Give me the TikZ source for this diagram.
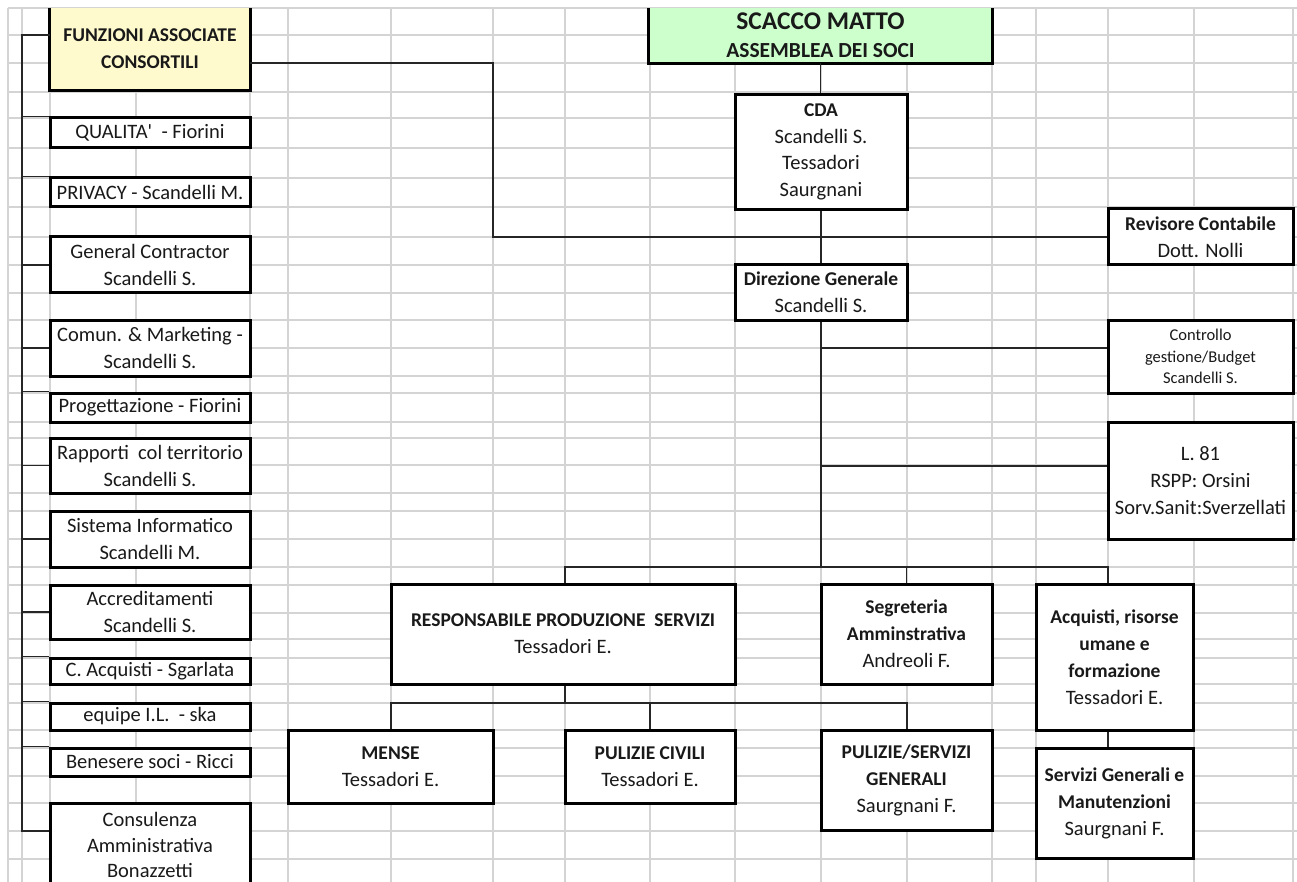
\documentclass[tikz,border=0pt]{standalone}
\usepackage{fontspec}
\setmainfont{Carlito}
\definecolor{gridgray}{RGB}{212,212,212}
\definecolor{boxyellow}{RGB}{255,250,205}
\definecolor{boxgreen}{RGB}{204,255,204}
\definecolor{ink}{RGB}{25,25,25}
\newcommand{\hd}[1]{{\fontsize{19.5}{27}\selectfont\bfseries #1}}

\begin{document}
\begin{tikzpicture}[x=1pt,y=-1pt,
	box/.style={draw=black,line width=3pt,fill=white,align=center,inner sep=0pt,text=ink,font=\fontsize{20.5}{27}\selectfont},
	topbox/.style={align=center,inner sep=0pt,text=ink,font=\fontsize{19.5}{27}\selectfont\bfseries},
	link/.style={line width=1.6pt,draw=black!85}]
		\clip (0,0) rectangle (1297,882);
		\foreach \x in {8,22,50,136,250,288,391,493,565,650,735,821,907,992,1036,1108,1194,1293}
			\draw[gridgray,line width=1.2pt] (\x,8) -- (\x,882);
		\foreach \y in {8,35,63,92,118,148,178,207,237,265,293,320,348,376,393,422,438,465,493,511,539,567,585,613,639,658,684,703,730,748,776,803,831,859}
			\draw[gridgray,line width=1.2pt] (8,\y) -- (1297,\y);
		\node[topbox,fill=boxyellow,minimum width=200pt,minimum height=82pt] (F) at (150,49) {FUNZIONI ASSOCIATE\\CONSORTILI};
		\draw[line width=3pt] (F.north west) -- (F.south west) -- (F.south east) -- (F.north east);
		\node[box,minimum width=200pt,minimum height=30pt] (Q) at (150,133) {QUALITA\textquotesingle{}\ \ - Fiorini};
		\node[box,minimum width=200pt,minimum height=29pt] (P) at (150,192.5) {PRIVACY - Scandelli M.};
		\node[box,minimum width=200pt,minimum height=56pt] (G) at (150,265) {General Contractor\\Scandelli S.};
		\node[box,minimum width=200pt,minimum height=56pt] (C) at (150,348) {Comun. \& Marketing -\\Scandelli S.};
		\node[box,minimum width=200pt,minimum height=29pt] (Pg) at (150,407.5) {Progettazione - Fiorini};
		\node[box,minimum width=200pt,minimum height=55pt] (R) at (150,465.5) {Rapporti\ \ col territorio\\Scandelli S.};
		\node[box,minimum width=200pt,minimum height=56pt] (SI) at (150,539) {Sistema Informatico\\Scandelli M.};
		\node[box,minimum width=200pt,minimum height=54pt] (AC) at (150,612) {Accreditamenti\\Scandelli S.};
		\node[box,minimum width=200pt,minimum height=26pt] (CA) at (150,671) {C. Acquisti - Sgarlata};
		\node[box,minimum width=200pt,minimum height=27pt] (E) at (150,716.5) {equipe I.L.\ \ - ska};
		\node[box,minimum width=200pt,minimum height=28pt] (B) at (150,762) {Benesere soci - Ricci};
		\node[box,minimum width=200pt,minimum height=84pt,font=\fontsize{20.5}{25.5}\selectfont] (K) at (150,845) {Consulenza\\Amministrativa\\Bonazzetti};
		\node[topbox,fill=boxgreen,minimum width=343pt,minimum height=55pt,font=\fontsize{21.5}{28}\selectfont\bfseries] (SM) at (820.5,35.5) {{\fontsize{25.5}{28}\selectfont SCACCO MATTO}\\ASSEMBLEA DEI SOCI};
		\draw[line width=3pt] (SM.north west) -- (SM.south west) -- (SM.south east) -- (SM.north east);
		\node[box,minimum width=172pt,minimum height=115pt,font=\fontsize{20.5}{26.5}\selectfont] (CDA) at (821,152) {\hd{CDA}\\Scandelli S.\\Tessadori\\Saurgnani};
		\node[box,minimum width=172pt,minimum height=55pt] (DG) at (821,292.5) {\hd{Direzione Generale}\\Scandelli S.};
		\node[box,minimum width=185pt,minimum height=56pt] (RC) at (1200.5,237) {\hd{Revisore Contabile}\\Dott. Nolli};
		\node[box,minimum width=185pt,minimum height=73pt,font=\fontsize{16.5}{21.5}\selectfont] (CG) at (1200.5,356.5) {Controllo\\gestione/Budget\\Scandelli S.};
		\node[box,minimum width=185pt,minimum height=117pt] (L) at (1200.5,480.5) {L. 81\\RSPP: Orsini\\Sorv.Sanit:Sverzellati};
		\node[box,minimum width=344pt,minimum height=100pt] (RP) at (563,634) {\hd{RESPONSABILE PRODUZIONE\ \ SERVIZI}\\Tessadori E.};
		\node[box,minimum width=171pt,minimum height=100pt] (SA) at (906.5,634) {\hd{Segreteria}\\\hd{Amminstrativa}\\Andreoli F.};
		\node[box,minimum width=157pt,minimum height=146pt] (AQ) at (1114.5,657) {\hd{Acquisti, risorse}\\\hd{umane e}\\\hd{formazione}\\Tessadori E.};
		\node[box,minimum width=157pt,minimum height=110pt] (SG) at (1114.5,803) {\hd{Servizi Generali e}\\\hd{Manutenzioni}\\Saurgnani F.};
		\node[box,minimum width=205pt,minimum height=73pt] (ME) at (390.5,766.5) {\hd{MENSE}\\Tessadori E.};
		\node[box,minimum width=170pt,minimum height=73pt] (PC) at (650,766.5) {\hd{PULIZIE CIVILI}\\Tessadori E.};
		\node[box,minimum width=171pt,minimum height=100pt] (PS) at (906.5,780) {\hd{PULIZIE/SERVIZI}\\\hd{GENERALI}\\Saurgnani F.};
		\coordinate (bt) at (22,35);
		\coordinate (bb) at (22,831);
		\draw[link] (F.west |- bt) -- (bt) -- (bb) -- (K.west |- bb);
		\foreach \n/\a in {Q/north west,P/north west,G/west,C/west,Pg/north west,R/west,SI/west,AC/west,CA/north west,E/north west,B/north west}
			\draw[link] (\n.\a) -- (\n.\a -| bt);
		\coordinate (fr) at (493,63);
		\draw[link] (F.east |- fr) -- (fr) -- (fr |- RC.west) -- (RC.west);
		\draw[link] (SM.south) -- (SM.south |- CDA.north);
		\draw[link] (CDA.south) -- (DG.north);
		\coordinate (j1) at (821,348);
		\coordinate (j2) at (821,466);
		\coordinate (j3) at (821,567);
		\draw[link] (DG.south) -- (j3);
		\draw[link] (j1) -- (j1 -| CG.west);
		\draw[link] (j2) -- (j2 -| L.west);
		\coordinate (bl) at (565,567);
		\coordinate (br) at (1108,567);
		\draw[link] (bl |- RP.north) -- (bl) -- (br) -- (br |- AQ.north);
		\draw[link] (SA.north |- br) -- (SA.north);
		\draw[link] (br |- AQ.south) -- (br |- SG.north);
		\coordinate (ml) at (391,703);
		\coordinate (mr) at (907,703);
		\draw[link] (bl |- RP.south) -- (bl |- ml);
		\draw[link] (ml |- ME.north) -- (ml) -- (mr) -- (mr |- PS.north);
		\draw[link] (PC.north |- ml) -- (PC.north);
	\end{tikzpicture}
\end{document}
